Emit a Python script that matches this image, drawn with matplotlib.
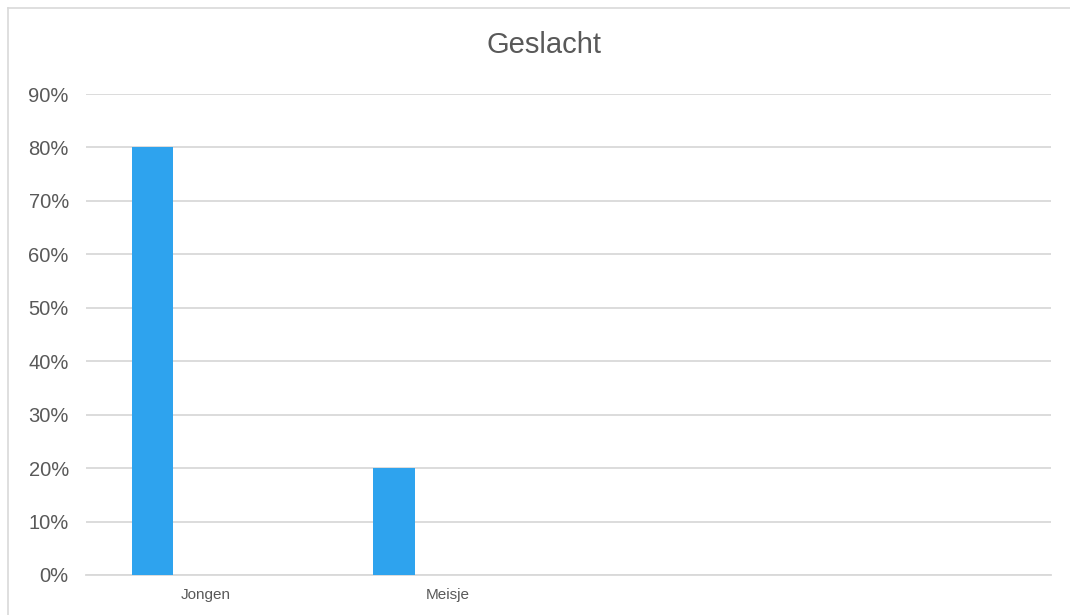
import matplotlib.pyplot as plt
from matplotlib.lines import Line2D
from matplotlib.ticker import PercentFormatter
import numpy as np

plt.rcParams['font.family'] = ['Liberation Sans', 'DejaVu Sans']

categories = ['Jongen', 'Meisje', '', '']
values = [0.80, 0.20, None, None]
yticks = [0, 0.1, 0.2, 0.3, 0.4, 0.5, 0.6, 0.7, 0.8, 0.9]

W, H = 1070, 615
fig = plt.figure(figsize=(W / 100, H / 100), dpi=100)
ax = fig.add_axes([85.5 / W, (H - 575) / H, (1051 - 85.5) / W, (575 - 94) / H])

text_col = '#595959'
grid_col = '#d9d9d9'
bar_col = '#2ea3ee'

x = np.arange(len(categories))
xs = [xi for xi, v in zip(x, values) if v is not None]
vs = [v for v in values if v is not None]
ax.bar(np.array(xs) - 0.222, vs, width=0.172, color=bar_col, zorder=3)

ax.set_xlim(-0.5, len(categories) - 0.5)
ax.set_ylim(0, 0.9)
ax.set_yticks(yticks)
ax.yaxis.set_major_formatter(PercentFormatter(1.0, decimals=0))
ax.set_xticks(x)
ax.set_xticklabels(categories)

ax.grid(axis='y', color=grid_col, linewidth=1.3, zorder=0)
for s in ['top', 'right', 'left']:
    ax.spines[s].set_visible(False)
ax.spines['bottom'].set_color(grid_col)
ax.spines['bottom'].set_linewidth(1.3)

ax.tick_params(axis='y', length=0, pad=12, labelsize=14.5, labelcolor=text_col)
ax.tick_params(axis='x', length=0, pad=9, labelsize=11, labelcolor=text_col)

fig.text(544 / W, 1 - 45 / H, 'Geslacht', ha='center', va='center',
         fontsize=21, color=text_col)

# chart border (only left and top visible in the crop)
fig.add_artist(Line2D([7.5 / W, 7.5 / W], [0, 1 - 7.5 / H], color=grid_col, linewidth=1.2))
fig.add_artist(Line2D([7.5 / W, 1], [1 - 7.5 / H, 1 - 7.5 / H], color=grid_col, linewidth=1.2))

fig.savefig('out.png', dpi=100)
